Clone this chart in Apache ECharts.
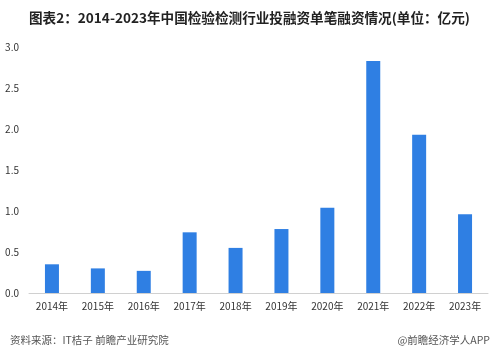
<!DOCTYPE html>
<html><head><meta charset="utf-8">
<script src="https://cdn.jsdelivr.net/npm/echarts@6/dist/echarts.min.js"></script>
<style>html,body{margin:0;padding:0;background:#fff;}#c{width:499px;height:355px;}</style>
</head><body><div id="c"></div>
<script>
const categories = ['2014年','2015年','2016年','2017年','2018年','2019年','2020年','2021年','2022年','2023年'];
const values = [0.35, 0.30, 0.27, 0.74, 0.55, 0.78, 1.04, 2.83, 1.93, 0.96];
const yTicks = {min: 0, max: 3, interval: 0.5};
const titleText = '图表2：2014-2023年中国检验检测行业投融资单笔融资情况(单位：亿元)';
const sourceText = '资料来源：IT桔子 前瞻产业研究院';
const creditText = '@前瞻经济学人APP';

const chart = echarts.init(document.getElementById('c'), null, {renderer: 'canvas'});
const font = '"Noto Sans CJK SC", "Noto Sans", sans-serif';
chart.setOption({
  backgroundColor: '#fff',
  animation: false,
  title: [
    {text: titleText, left: 24, top: 6, textStyle: {fontFamily: font, fontSize: 13.6, fontWeight: 'bold', color: '#222'}},
    {text: sourceText, left: 5, top: 330, textStyle: {fontFamily: font, fontSize: 10.5, fontWeight: 'normal', color: '#555'}},
    {text: creditText, right: 4, top: 330, textStyle: {fontFamily: font, fontSize: 10.5, fontWeight: 'normal', color: '#555'}}
  ],
  grid: {left: 29, right: 11, top: 47, bottom: 62, containLabel: false},
  xAxis: {
    type: 'category', data: categories,
    axisLine: {lineStyle: {color: '#d0d0d0'}},
    axisTick: {show: false},
    axisLabel: {fontFamily: font, fontSize: 10, color: '#333', margin: 8}
  },
  yAxis: {
    type: 'value', min: yTicks.min, max: yTicks.max, interval: yTicks.interval,
    axisLine: {show: false}, axisTick: {show: false}, splitLine: {show: false},
    axisLabel: {fontFamily: font, fontSize: 10, color: '#333', margin: 10,
      formatter: v => v.toFixed(1)}
  },
  series: [{
    type: 'bar', data: values, barWidth: 14,
    itemStyle: {color: '#2f7fe3'}
  }]
});
</script></body></html>
